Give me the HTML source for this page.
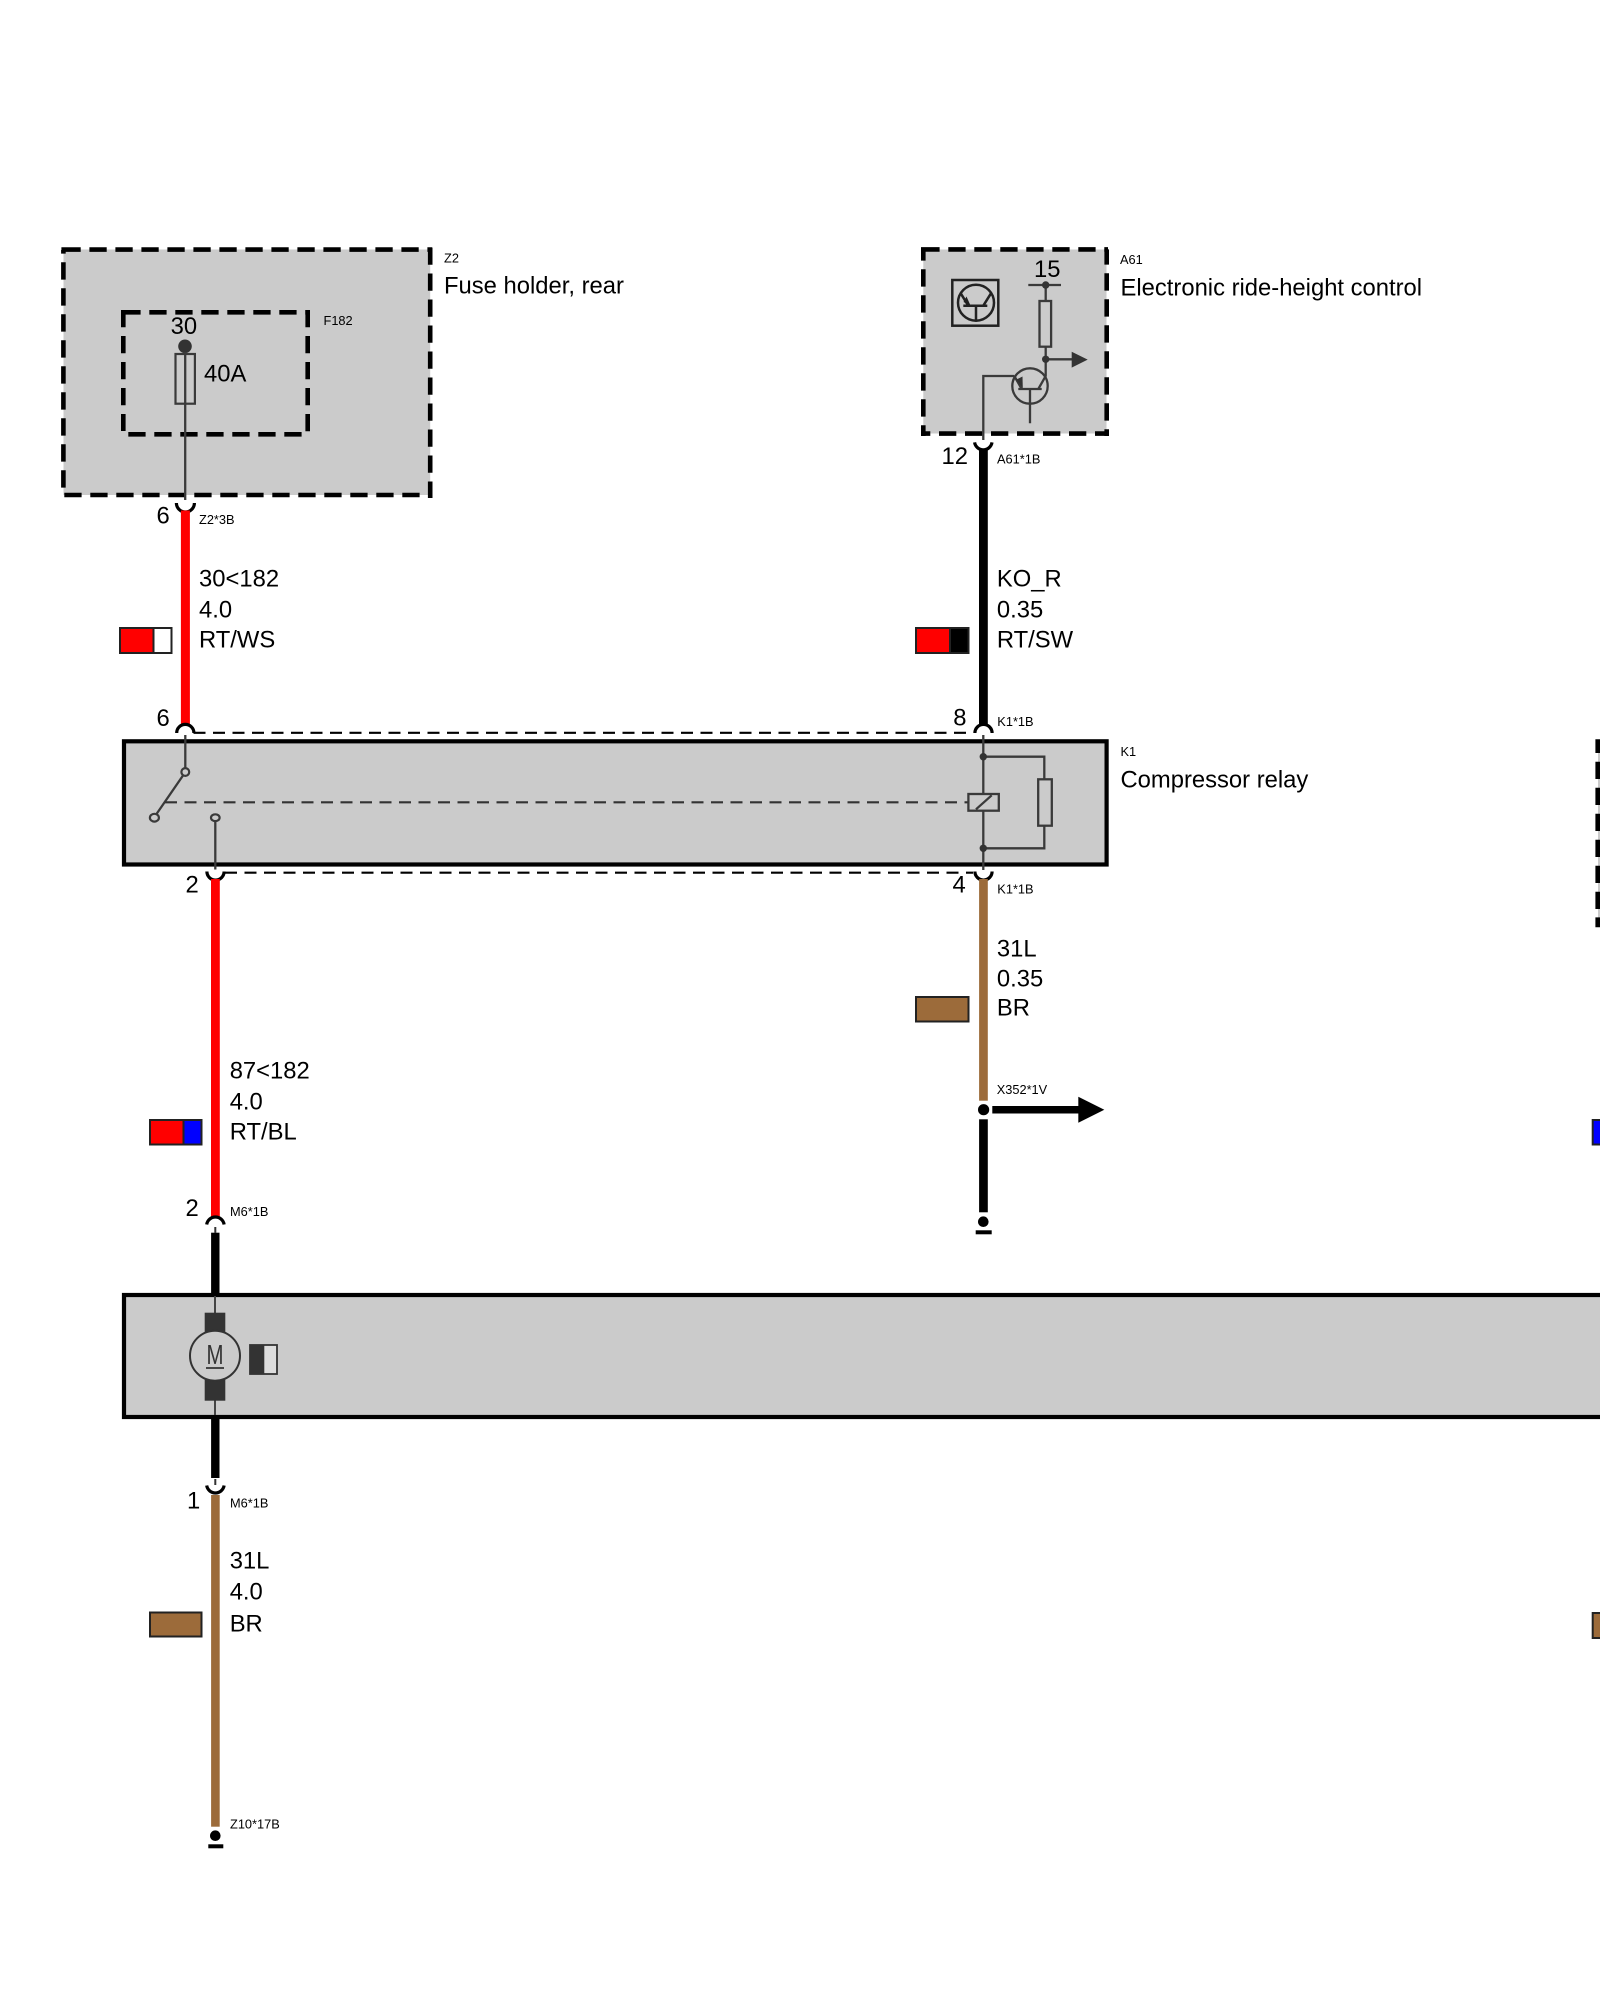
<!DOCTYPE html>
<html><head><meta charset="utf-8"><title>Diagram</title>
<style>
html,body{margin:0;padding:0;background:#fff}
svg{display:block}
text{font-family:"Liberation Sans",Arial,sans-serif;fill:#000}
.l{font-size:23.8px}
.s{font-size:12.8px}
.d{fill:none;stroke:#000;stroke-width:4.6;stroke-dasharray:17.3 8.7}
.t{fill:none;stroke:#3a3a3a;stroke-width:2.3}
.k{fill:none;stroke:#222;stroke-width:2.5}
.a{fill:none;stroke:#000;stroke-width:3.2}
.b{fill:none;stroke:#000;stroke-width:2.2;stroke-dasharray:12 7.5}
.n{fill:none;stroke:#333;stroke-width:2.2;stroke-dasharray:12 7.5}
.sw{stroke:#222;stroke-width:2}
</style></head><body>
<svg width="1600" height="2000" viewBox="0 0 1600 2000" xmlns="http://www.w3.org/2000/svg">
<rect width="1600" height="2000" fill="#fff"/>

<!-- Z2 -->
<rect x="63.5" y="249.5" width="366.7" height="245.5" fill="#cbcbcb"/>
<path d="M61.4,249.6 H63.4 M63.4,249.6 H432" class="d"/>
<path d="M64.3,495 H428" class="d"/>
<path d="M63.4,250 V490" class="d" stroke-dashoffset="13.7"/>
<path d="M430.2,247.5 V498" class="d"/>
<!-- F182 -->
<path d="M121,312.3 H123.3 M123.3,312.3 H310" class="d"/>
<path d="M128.3,434.3 H302" class="d"/>
<path d="M123.3,310 V431" class="d"/>
<path d="M307.7,310 V432" class="d"/>
<circle cx="185" cy="346.3" r="6.8" fill="#333"/>
<rect x="175.5" y="354" width="19.4" height="49.7" fill="none" stroke="#3a3a3a" stroke-width="2.2"/>
<line x1="185.2" y1="352" x2="185.2" y2="500" class="t"/>
<path d="M176.4,503 A9,9 0 0 0 194.4,503" class="a"/>
<rect x="180.9" y="510.5" width="9" height="215" fill="#f00"/>
<text class="l" x="170.6" y="334">30</text>
<text class="l" x="204" y="381.7">40A</text>
<text class="s" x="323.5" y="325">F182</text>
<text class="s" x="444" y="262.3">Z2</text>
<text class="l" x="444" y="293.3">Fuse holder, rear</text>
<text class="l" x="156.5" y="523.3">6</text>
<text class="s" x="199" y="524">Z2*3B</text>
<text class="l" x="199" y="586.7">30&lt;182</text>
<text class="l" x="199" y="617.7">4.0</text>
<text class="l" x="199" y="647.3">RT/WS</text>
<rect x="120" y="628" width="51.5" height="25" fill="#fff" class="sw"/>
<rect x="120" y="628" width="33.5" height="25" fill="#f00" class="sw"/>

<!-- A61 -->
<rect x="923.3" y="249.5" width="183.2" height="184" fill="#cbcbcb"/>
<path d="M921,249.4 H922.3 M922.3,249.4 H1108" class="d"/>
<path d="M921,433.6 H1108" class="d" stroke-dashoffset="8"/>
<path d="M923.3,249.4 V436" class="d" stroke-dashoffset="6.1"/>
<path d="M1106.7,249.4 V436" class="d" stroke-dashoffset="2.1"/>
<rect x="952.3" y="280" width="46" height="45.7" class="k"/>
<circle cx="976" cy="302.7" r="18" class="k"/>
<path d="M963.3,305.7 H987.3 M976,305.7 V320 M960.7,293.3 L968.3,305.7 M983.3,305.7 L991,293.3" class="k"/>
<path d="M970.5,305.5 L963.5,302 L966.5,296.5 Z" fill="#222"/>
<text class="l" x="1034" y="277">15</text>
<path d="M1028.3,285 H1061 M1045.7,285 V301 M1045.7,346.7 V376 L1038.3,389 M1045.7,359.3 H1073" class="t"/>
<circle cx="1045.7" cy="285" r="3.7" fill="#333"/>
<rect x="1039.5" y="301" width="11.6" height="45.7" class="t"/>
<circle cx="1045.7" cy="359.3" r="3.7" fill="#333"/>
<path d="M1071.7,351.8 L1087.7,359.6 L1071.7,367.6 Z" fill="#333"/>
<circle cx="1030" cy="386" r="17.7" class="t"/>
<path d="M1018.3,389 H1041.7 M1030,389 V423.3 M1014.3,376 L1021.7,389 M1014.3,376 H983.3 V440" class="t"/>
<path d="M1022.8,388.5 L1016.5,379.5 L1022.5,376.5 Z" fill="#333"/>
<path d="M974.6,442.4 A8.8,8.8 0 0 0 992,442.4" class="a"/>
<rect x="979" y="449.8" width="8.8" height="275.5" fill="#000"/>
<text class="s" x="1120" y="264">A61</text>
<text class="l" x="1120.5" y="295.3">Electronic ride-height control</text>
<text class="l" x="941.5" y="464">12</text>
<text class="s" x="997" y="463.3">A61*1B</text>
<text class="l" x="996.9" y="586.7">KO_R</text>
<text class="l" x="996.9" y="617.7">0.35</text>
<text class="l" x="996.9" y="647.3">RT/SW</text>
<rect x="916" y="628" width="52.5" height="25" fill="#000" class="sw"/>
<rect x="916" y="628" width="34" height="25" fill="#f00" class="sw"/>

<!-- K1 -->
<rect x="124" y="741.3" width="982.6" height="123.2" fill="#cbcbcb" stroke="#000" stroke-width="4.2"/>
<path d="M193.5,732.8 H973" class="b"/>
<path d="M225,872.7 H973" class="b"/>
<path d="M176.7,733 A8.6,8.6 0 0 1 193.9,733" class="a"/>
<path d="M974.9,733 A8.6,8.6 0 0 1 992.1,733" class="a"/>
<path d="M206.9,871.5 A8.6,8.6 0 0 0 224.1,871.5" class="a"/>
<path d="M974.9,871.5 A8.6,8.6 0 0 0 992.1,871.5" class="a"/>
<path d="M185.3,735 V768 M183,775.5 L156.5,814" class="t"/>
<circle cx="185.3" cy="772" r="3.9" fill="#cbcbcb" stroke="#3a3a3a" stroke-width="2.2"/>
<ellipse cx="154.4" cy="817.7" rx="4.5" ry="3.9" fill="#cbcbcb" stroke="#3a3a3a" stroke-width="2.2"/>
<ellipse cx="215.3" cy="817.7" rx="4.3" ry="3.4" fill="#cbcbcb" stroke="#3a3a3a" stroke-width="2.2"/>
<line x1="215.3" y1="821" x2="215.3" y2="869.5" class="t"/>
<path d="M165,802.3 H968" class="n"/>
<path d="M983.3,735 V794 M983.3,810.7 V870" class="t"/>
<rect x="968.4" y="794" width="30.4" height="16.7" class="t"/>
<path d="M976,809.3 L991.7,795.3" class="t"/>
<path d="M983.3,756.7 H1044.3 V779.3 M1044.3,825.7 V848.3 H983.3" class="t"/>
<rect x="1038.2" y="779.3" width="13.6" height="46.4" class="t"/>
<circle cx="983.3" cy="756.7" r="3.7" fill="#333"/>
<circle cx="983.3" cy="848.3" r="3.7" fill="#333"/>
<text class="l" x="156.5" y="726">6</text>
<text class="l" x="953.3" y="725.3">8</text>
<text class="s" x="997.3" y="726">K1*1B</text>
<text class="s" x="1120.5" y="756">K1</text>
<text class="l" x="1120.5" y="787.7">Compressor relay</text>
<text class="l" x="185.5" y="892.7">2</text>
<text class="l" x="952.5" y="892.7">4</text>
<text class="s" x="997.3" y="893.3">K1*1B</text>

<!-- Right partial box -->
<rect x="1598" y="741" width="2" height="184" fill="#cbcbcb"/>
<path d="M1597.7,739.3 V753 M1597.7,761.7 V779 M1597.7,787.7 V805 M1597.7,813.7 V831 M1597.7,839.7 V857 M1597.7,865.7 V883 M1597.7,891.7 V909 M1597.7,917.4 V927.3" fill="none" stroke="#000" stroke-width="4.6"/>
<rect x="1592.7" y="1120" width="10" height="24.5" fill="#00f" class="sw"/>
<rect x="1592.7" y="1613" width="10" height="25" fill="#9c6b3a" class="sw"/>

<!-- Red wire 2 -->
<rect x="211" y="879" width="8.8" height="338.5" fill="#f00"/>
<text class="l" x="229.7" y="1078.5">87&lt;182</text>
<text class="l" x="229.7" y="1109.5">4.0</text>
<text class="l" x="229.7" y="1139.5">RT/BL</text>
<rect x="150" y="1120" width="51.5" height="24.5" fill="#00f" class="sw"/>
<rect x="150" y="1120" width="33.5" height="24.5" fill="#f00" class="sw"/>
<path d="M206.7,1224.5 A8.8,8.8 0 0 1 224.1,1224.5" class="a"/>
<text class="l" x="185.5" y="1216">2</text>
<text class="s" x="230" y="1216">M6*1B</text>

<!-- Brown wire right -->
<rect x="979.1" y="879" width="8.7" height="221.7" fill="#9c6b3a"/>
<text class="l" x="996.9" y="956.5">31L</text>
<text class="l" x="996.9" y="986.5">0.35</text>
<text class="l" x="996.9" y="1015.5">BR</text>
<rect x="916" y="997" width="52.5" height="24.5" fill="#9c6b3a" class="sw"/>
<text class="s" x="996.7" y="1094">X352*1V</text>
<circle cx="983.6" cy="1109.7" r="5.6" fill="#000"/>
<rect x="992.3" y="1106" width="88" height="7.5" fill="#000"/>
<path d="M1078.3,1096.7 L1104.3,1109.7 L1078.3,1122.7 Z" fill="#000"/>
<rect x="979.1" y="1119.3" width="8.7" height="93" fill="#000"/>
<circle cx="983.3" cy="1221.7" r="5.3" fill="#000"/>
<rect x="975.7" y="1230.3" width="16" height="4" fill="#000"/>

<!-- M6 -->
<rect x="124" y="1295" width="1500" height="122" fill="#cbcbcb" stroke="#000" stroke-width="4.2"/>
<rect x="211.1" y="1232.7" width="8.4" height="62" fill="#000"/>
<rect x="211.1" y="1417" width="8.4" height="61" fill="#000"/>
<line x1="215.3" y1="1227" x2="215.3" y2="1233" stroke="#333" stroke-width="2"/>
<line x1="215.3" y1="1479" x2="215.3" y2="1485" stroke="#333" stroke-width="2"/>
<line x1="215" y1="1296" x2="215" y2="1415" stroke="#444" stroke-width="2"/>
<rect x="204.7" y="1312.7" width="20.6" height="20.5" fill="#333"/>
<rect x="204.7" y="1379" width="20.6" height="21.7" fill="#333"/>
<circle cx="215" cy="1355.7" r="25" fill="#cbcbcb" stroke="#333" stroke-width="2"/>
<text x="206.5" y="1364" font-size="28" textLength="17" lengthAdjust="spacingAndGlyphs" style="fill:#333">M</text>
<line x1="206" y1="1368" x2="224" y2="1368" stroke="#333" stroke-width="1.8"/>
<rect x="250" y="1345" width="27" height="29" fill="#ddd" stroke="#333" stroke-width="1.8"/>
<rect x="250" y="1345" width="14.3" height="29" fill="#333"/>
<path d="M206.7,1485.5 A8.8,8.8 0 0 0 224.1,1485.5" class="a"/>
<rect x="211.1" y="1495" width="8.6" height="331.7" fill="#9c6b3a"/>
<text class="l" x="187" y="1508.3">1</text>
<text class="s" x="230" y="1507.7">M6*1B</text>
<text class="l" x="229.7" y="1568.5">31L</text>
<text class="l" x="229.7" y="1599.5">4.0</text>
<text class="l" x="229.7" y="1631.5">BR</text>
<rect x="150" y="1612.5" width="51.5" height="24" fill="#9c6b3a" class="sw"/>
<text class="s" x="230" y="1828.7">Z10*17B</text>
<circle cx="215.3" cy="1835.7" r="5.3" fill="#000"/>
<rect x="208.3" y="1844.3" width="15" height="4" fill="#000"/>
</svg>
</body></html>
